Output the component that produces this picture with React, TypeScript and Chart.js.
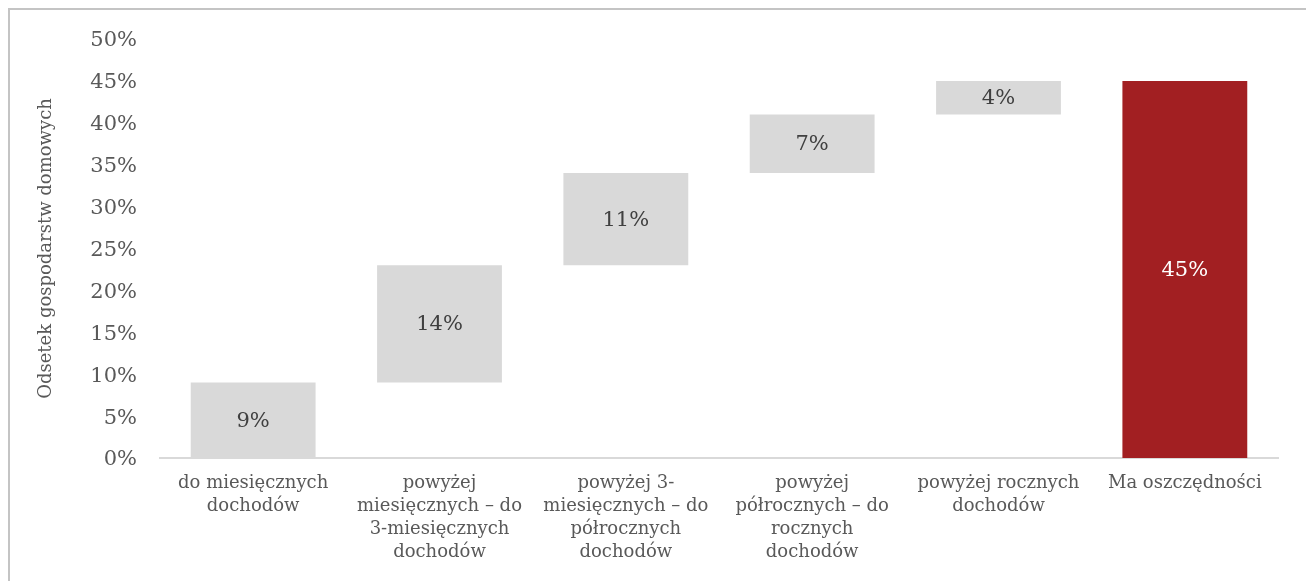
import React, { useEffect, useRef } from "react";
import { Chart, registerables } from "chart.js";

Chart.register(...registerables);

// Categories (multi-line tick labels) and values in percent
const categories: string[][] = [
  ["do miesięcznych", "dochodów"],
  ["powyżej", "miesięcznych – do", "3-miesięcznych", "dochodów"],
  ["powyżej 3-", "miesięcznych – do", "półrocznych", "dochodów"],
  ["powyżej", "półrocznych – do", "rocznych", "dochodów"],
  ["powyżej rocznych", "dochodów"],
  ["Ma oszczędności"],
];
const stepValues: number[] = [9, 14, 11, 7, 4];
const totalValue: number = 45;
const yTicks: number[] = [0, 5, 10, 15, 20, 25, 30, 35, 40, 45, 50];

const SERIF = "'DejaVu Serif', serif";
const STEP_COLOR = "#D9D9D9";
const TOTAL_COLOR = "#A21F22";

// Floating bars: each step sits on top of the running sum, the last bar is the total
function buildRanges(): { ranges: [number, number][]; labels: number[] } {
  const ranges: [number, number][] = [];
  const labels: number[] = [];
  let acc = 0;
  for (const v of stepValues) {
    ranges.push([acc, acc + v]);
    labels.push(v);
    acc += v;
  }
  ranges.push([0, totalValue]);
  labels.push(totalValue);
  return { ranges, labels };
}

const barValueLabels = {
  id: "barValueLabels",
  afterDatasetsDraw(chart: any) {
    const { ctx } = chart;
    const meta = chart.getDatasetMeta(0);
    const labels: number[] = chart.data.datasets[0].valueLabels;
    ctx.save();
    ctx.font = `21px ${SERIF}`;
    ctx.textAlign = "center";
    ctx.textBaseline = "middle";
    meta.data.forEach((bar: any, i: number) => {
      const cy = (bar.y + bar.base) / 2;
      ctx.fillStyle = i === labels.length - 1 ? "#FFFFFF" : "#404040";
      ctx.fillText(`${labels[i]}%`, bar.x, cy + 1);
    });
    ctx.restore();
  },
};

export default function App() {
  const canvasRef = useRef<HTMLCanvasElement | null>(null);

  useEffect(() => {
    if (!canvasRef.current) return;
    const { ranges, labels } = buildRanges();
    const chart = new Chart(canvasRef.current, {
      type: "bar",
      data: {
        labels: categories,
        datasets: [
          {
            data: ranges as any,
            valueLabels: labels,
            backgroundColor: ranges.map((_, i) => (i === ranges.length - 1 ? TOTAL_COLOR : STEP_COLOR)),
            borderWidth: 0,
            barPercentage: 0.67,
            categoryPercentage: 1,
          } as any,
        ],
      },
      options: {
        responsive: false,
        animation: false,
        layout: { padding: { top: 29, right: 28, left: 0, bottom: 0 } },
        plugins: {
          legend: { display: false },
          tooltip: { enabled: false },
        },
        scales: {
          x: {
            grid: { display: false, drawTicks: false },
            border: { display: true, color: "#D9D9D9", width: 2 },
            ticks: {
              color: "#595959",
              font: { family: SERIF, size: 18, lineHeight: "23px" },
              padding: 14,
              maxRotation: 0,
              autoSkip: false,
            },
            afterFit: (scale: any) => {
              scale.height = 123;
            },
          },
          y: {
            min: 0,
            max: 50,
            grid: { display: false, drawTicks: false },
            border: { display: false },
            afterBuildTicks: (scale: any) => {
              scale.ticks = yTicks.map((v) => ({ value: v }));
            },
            ticks: {
              color: "#595959",
              font: { family: SERIF, size: 21 },
              padding: 23,
              labelOffset: 2,
              callback: (v: any) => `${v}%`,
            },
            title: {
              display: true,
              text: "Odsetek gospodarstw domowych",
              color: "#595959",
              font: { family: SERIF, size: 18 },
              padding: { top: 26, bottom: 0 },
            },
            afterFit: (scale: any) => {
              scale.width = 150;
              scale.paddingTop = 0;
              scale.paddingBottom = 0;
            },
          },
        },
      },
      plugins: [barValueLabels],
    });
    return () => chart.destroy();
  }, []);

  return (
    <div style={{ position: "fixed", left: 0, top: 0, width: "100vw", height: "100vh", overflow: "hidden", background: "#fff" }}>
      <div
        style={{
          position: "absolute",
          left: 8,
          top: 8,
          width: 1330,
          height: 600,
          border: "2px solid #C4C4C4",
          boxSizing: "border-box",
        }}
      >
        <canvas ref={canvasRef} width={1296} height={571} style={{ display: "block" }} />
      </div>
    </div>
  );
}
